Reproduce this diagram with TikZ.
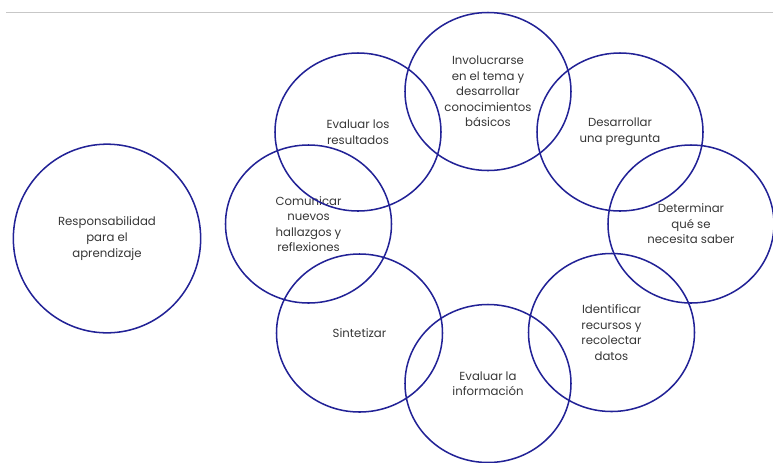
\documentclass[tikz,border=0pt]{standalone}
\usepackage{fontspec}
\setmainfont{Poppins}
\usepackage{tikz}
\usetikzlibrary{positioning}
\usetikzlibrary{shapes.geometric}
\definecolor{ringblue}{RGB}{34,34,150}
\definecolor{textgray}{RGB}{55,55,55}
\tikzstyle{every node}+=[inner sep=0pt]
\tikzstyle{phase} = [ellipse, draw=ringblue, line width=1.3pt, text=textgray, font=\fontsize{10}{13.3}\selectfont, align=center, minimum width=4.98cm, minimum height=4.74cm]
\tikzstyle{rule} = [draw=black!22, line width=0.6pt]

\begin{document}
\begin{tikzpicture}[x=0.03cm, y=-0.03cm]
            \useasboundingbox (0,0) rectangle (773,462);
            % Top rule
            \coordinate (r0) at (6,12);
            \coordinate (r1) at (773,12);
            \path [rule] (r0) -- (r1);
            % Place nodes
            \node [phase, minimum width=5.62cm, minimum height=5.66cm] (resp) at (107,238.5) {Responsabilidad\\para el\\aprendizaje};
            \node [phase] (inv) at (488,91.5) {Involucrarse\\en el tema y\\desarrollar\\conocimientos\\básicos};
            \node [phase] (des) at (620,132) {Desarrollar\\una pregunta};
            \node [phase] (det) at (691,224) {Determinar\\qué se\\necesita saber};
            \node [phase] (ident) at (611.5,332.5) {Identificar\\recursos y\\recolectar\\datos};
            \node [phase] (evinfo) at (488,383.5) {Evaluar la\\información};
            \node [phase] (sint) at (359.5,333) {Sintetizar};
            \node [phase] (com) at (308.5,224) {Comunicar\\nuevos\\hallazgos y\\reflexiones};
            \node [phase] (evres) at (358,132) {Evaluar los\\resultados};
          \end{tikzpicture}
\end{document}
